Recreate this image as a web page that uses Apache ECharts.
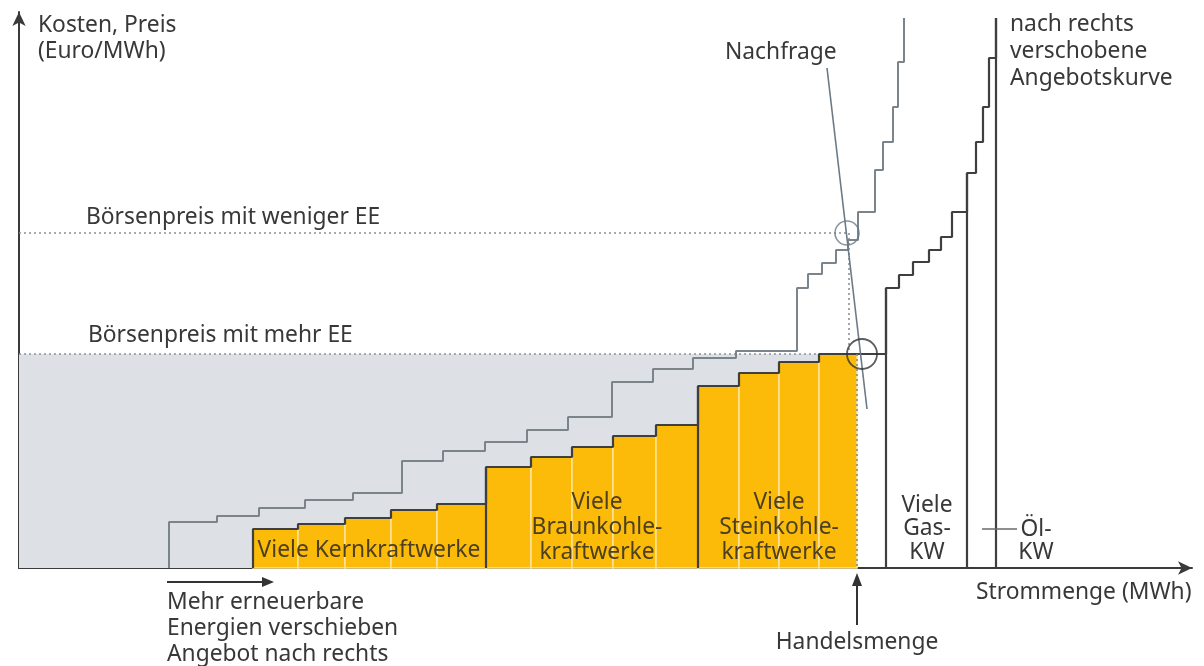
<!DOCTYPE html>
<html>
<head>
<meta charset="utf-8">
<script src="https://cdn.jsdelivr.net/npm/echarts@6/dist/echarts.min.js"></script>
<style>
  html, body { margin: 0; padding: 0; background: #fff; }
  #chart { width: 1204px; height: 666px; }
</style>
</head>
<body>
<div id="chart"></div>
<script>
// merit order, arbitrary units (quantity on x, price on y)
const origStart = [150, 198, 240, 286, 334, 383, 424, 466, 508, 549, 593, 634, 674, 717, 778, 789, 803, 817, 829, 839, 856, 864, 874, 879];
const origPrice = [46, 52, 60, 68, 75, 107, 117, 126, 138, 151, 186, 199, 210, 217, 280, 294, 305, 318, 328, 356, 398, 426, 461, 506];
const origEnd = 885;

const newStart = [234, 279, 326, 372, 418, 467, 512, 553, 594, 637, 679, 720, 760, 800, 867, 880, 894, 910, 922, 933, 948, 957, 964, 970];
const newPrice = [39, 44, 50, 58, 64, 101, 111, 121, 132, 143, 182, 195, 206, 214, 280, 293, 306, 318, 331, 356, 395, 426, 461, 510];
const newGroup = ['Kern', 'Kern', 'Kern', 'Kern', 'Kern', 'Braun', 'Braun', 'Braun', 'Braun', 'Braun',
  'Stein', 'Stein', 'Stein', 'Stein', 'Gas', 'Gas', 'Gas', 'Gas', 'Gas', 'Gas', 'Oel', 'Oel', 'Oel', 'Oel'];
const newEnd = 977;
const topPrice = 550;

const tradeQty = 838;       // Handelsmenge
const priceMore = 214;      // Börsenpreis mit mehr EE
const priceLess = 335;      // Börsenpreis mit weniger EE
const demandLine = [[808, 500], [848, 159]];
const oilLeader = [[963, 39], [998, 39]];

const xMax = 1173, yMax = 556;

function stepPoints(starts, prices, end) {
  const pts = [[starts[0], 0]];
  starts.forEach((s, i) => pts.push([s, prices[i]]));
  pts.push([end, topPrice]);
  return pts;
}

// yellow blocks up to the traded quantity
const yellowBars = [];
newStart.forEach((s, i) => {
  if (s >= tradeQty) return;
  const e = Math.min(i + 1 < newStart.length ? newStart[i + 1] : newEnd, tradeQty);
  yellowBars.push([s, e, newPrice[i]]);
});

// vertical lines where a new plant type starts
const boundaries = [];
newStart.forEach((s, i) => {
  if (i > 0 && newGroup[i] !== newGroup[i - 1]) boundaries.push([s, newPrice[i]]);
});
boundaries.push([newEnd, topPrice]);

const rectRender = (fill, stroke, lw) => (params, api) => {
  const p0 = api.coord([api.value(0), api.value(2)]);
  const p1 = api.coord([api.value(1), 0]);
  return {
    type: 'rect',
    shape: { x: p0[0], y: p0[1], width: p1[0] - p0[0], height: p1[1] - p0[1] },
    style: { fill: fill, stroke: stroke, lineWidth: lw }
  };
};

const chart = echarts.init(document.getElementById('chart'));
const FONT = '"Noto Sans", sans-serif';
const txt = (text, x, y, opts) => ({
  type: 'text', x: x, y: y, z: 100,
  style: Object.assign({ text: text, font: '22.8px ' + FONT, fill: '#383838', verticalAlign: 'middle', align: 'left', lineHeight: 25 }, opts || {})
});

chart.setOption({
  animation: false,
  backgroundColor: '#ffffff',
  grid: { left: 19, top: 12, width: xMax, height: yMax },
  xAxis: {
    type: 'value', min: 0, max: xMax,
    axisLine: { show: true, symbol: ['none', 'arrow'], symbolSize: [10, 14], lineStyle: { color: '#3a3a3a', width: 2 } },
    axisTick: { show: false }, axisLabel: { show: false }, splitLine: { show: false }
  },
  yAxis: {
    type: 'value', min: 0, max: yMax,
    axisLine: { show: true, symbol: ['none', 'arrow'], symbolSize: [10, 14], lineStyle: { color: '#3a3a3a', width: 2 } },
    axisTick: { show: false }, axisLabel: { show: false }, splitLine: { show: false }
  },
  series: [
    {
      type: 'custom', name: 'shade', z: 1,
      data: [[0, tradeQty, priceMore]],
      renderItem: rectRender('#dde1e5', null, 0)
    },
    {
      type: 'custom', name: 'yellow', z: 2,
      data: yellowBars,
      renderItem: rectRender('#fbbb08', '#fde49c', 1.5)
    },
    {
      type: 'line', name: 'mehr EE', z: 3, symbol: 'none',
      data: [[0, priceMore], [tradeQty, priceMore]],
      lineStyle: { color: '#8b9197', width: 1.6, type: [2, 3] }
    },
    {
      type: 'line', name: 'weniger EE', z: 3, symbol: 'none',
      data: [[0, priceLess], [828, priceLess]],
      lineStyle: { color: '#8b9197', width: 1.6, type: [2, 3] }
    },
    {
      type: 'line', name: 'drop weniger', z: 3, symbol: 'none',
      data: [[830, priceLess], [830, priceMore]],
      lineStyle: { color: '#8b9197', width: 1.6, type: [2, 3] }
    },
    {
      type: 'line', name: 'drop mehr', z: 6, symbol: 'none',
      data: [[tradeQty, priceMore], [tradeQty, 0]],
      lineStyle: { color: '#8b8b7a', width: 1.6, type: [2, 3] }
    },
    {
      type: 'line', name: 'Angebot alt', z: 4, symbol: 'none', step: 'end',
      data: stepPoints(origStart, origPrice, origEnd),
      lineStyle: { color: '#7c848b', width: 2 }
    },
    {
      type: 'line', name: 'Angebot neu', z: 5, symbol: 'none', step: 'end',
      data: stepPoints(newStart, newPrice, newEnd),
      lineStyle: { color: '#3f3f3f', width: 2.2 }
    },
    {
      type: 'custom', name: 'Gruppen', z: 5,
      data: boundaries,
      renderItem: (params, api) => {
        const a = api.coord([api.value(0), 0]);
        const b = api.coord([api.value(0), api.value(1)]);
        return { type: 'line', shape: { x1: a[0], y1: a[1], x2: b[0], y2: b[1] }, style: { stroke: '#3f3f3f', lineWidth: 2.2 } };
      }
    },
    {
      type: 'line', name: 'Nachfrage', z: 7, symbol: 'none',
      data: demandLine,
      lineStyle: { color: '#6c7a86', width: 1.6 }
    },
    {
      type: 'line', name: 'Öl', z: 5, symbol: 'none',
      data: oilLeader,
      lineStyle: { color: '#6a6a6a', width: 1.3 }
    },
    {
      type: 'scatter', name: 'Schnitt weniger', z: 8,
      data: [[828, priceLess]], symbol: 'circle', symbolSize: 24,
      itemStyle: { color: 'rgba(0,0,0,0)', borderColor: '#6c7a86', borderWidth: 1.6 }
    },
    {
      type: 'scatter', name: 'Schnitt mehr', z: 8,
      data: [[843, priceMore]], symbol: 'circle', symbolSize: 30,
      itemStyle: { color: 'rgba(0,0,0,0)', borderColor: '#333333', borderWidth: 1.8 }
    }
  ],
  graphic: [
    txt('Kosten, Preis', 38, 26),
    txt('(Euro/MWh)', 38, 52),
    txt('Börsenpreis mit weniger EE', 86, 218),
    txt('Börsenpreis mit mehr EE', 88, 336),
    txt('Nachfrage', 725, 53),
    txt('nach rechts\nverschobene\nAngebotskurve', 1010, 52, { lineHeight: 27 }),
    txt('Viele Kernkraftwerke', 369, 551, { align: 'center', fill: '#4d4020' }),
    txt('Viele\nBraunkohle-\nkraftwerke', 597, 528, { align: 'center', fill: '#4d4020' }),
    txt('Viele\nSteinkohle-\nkraftwerke', 779, 528, { align: 'center', fill: '#4d4020' }),
    txt('Viele\nGas-\nKW', 927, 529, { align: 'center', lineHeight: 23.5 }),
    txt('Öl-\nKW', 1036, 541, { align: 'center', lineHeight: 23 }),
    txt('Strommenge (MWh)', 976, 593),
    txt('Mehr erneuerbare\nEnergien verschieben\nAngebot nach rechts', 167, 629, { lineHeight: 26 }),
    txt('Handelsmenge', 857, 643, { align: 'center' }),
    { type: 'line', z: 100, shape: { x1: 167, y1: 582, x2: 264, y2: 582 }, style: { stroke: '#333', lineWidth: 2 } },
    { type: 'polygon', z: 100, shape: { points: [[274, 582], [262, 577], [262, 587]] }, style: { fill: '#333' } },
    { type: 'line', z: 100, shape: { x1: 857, y1: 625, x2: 857, y2: 584 }, style: { stroke: '#333', lineWidth: 2 } },
    { type: 'polygon', z: 100, shape: { points: [[857, 573], [852, 586], [862, 586]] }, style: { fill: '#333' } }
  ]
});
</script>
</body>
</html>
